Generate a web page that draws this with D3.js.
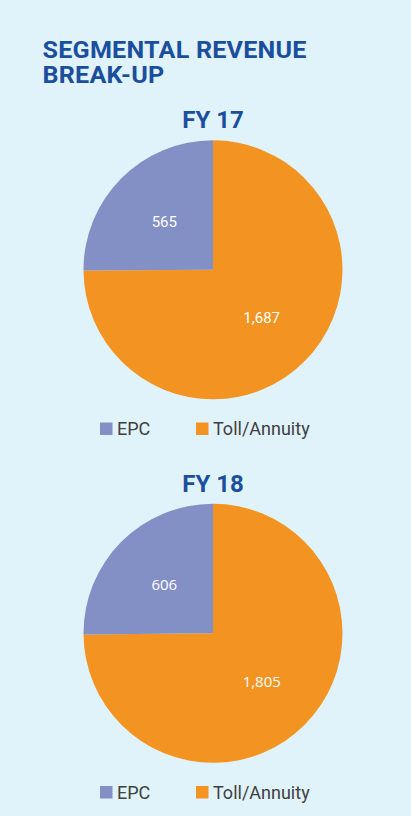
<!DOCTYPE html>
<html>
<head>
<meta charset="utf-8">
<script src="https://cdn.jsdelivr.net/npm/d3@7"></script>
<style>
  html, body { margin: 0; padding: 0; background: #e0f3fb; }
  svg { display: block; }
</style>
</head>
<body>
<div id="chart"></div>
<script>
/* Segmental revenue break-up, two pies */

const years = ["FY 17", "FY 18"];
const categories = ["EPC", "Toll/Annuity"];
const epcValues = [565, 606];
const tollValues = [1687, 1805];
const colors = ["#8290c6", "#f39422"];

const width = 411,
      height = 816,
      radius = 129.5,
      cx = 213;

let svg = d3.select("#chart")
    .append("svg")
    .attr("width", width)
    .attr("height", height)
    .attr("viewBox", [0, 0, width, height]);

svg.append("rect")
    .attr("width", width)
    .attr("height", height)
    .attr("fill", "#e0f3fb");

// main title, two lines, the source face is a bit wider than Roboto
svg.append("g")
    .attr("transform", "translate(42.5,0) scale(1.07,1)")
    .selectAll(".title")
    .data(["SEGMENTAL REVENUE", "BREAK-UP"])
    .join("text")
    .attr("class", "title")
    .attr("x", 0)
    .attr("y", (d, i) => 58.5 + i * 24.5)
    .attr("fill", "#1b4f9d")
    .style("font", "bold 23.5px Roboto")
    .style("letter-spacing", "0.2px")
    .text(d => d);

// pies start at 12 o'clock with Toll/Annuity, EPC closes the circle
let pie = d3.pie()
    .sort(null)
    .value(d => d.value);

let arc = d3.arc()
    .innerRadius(0)
    .outerRadius(radius);

let labelArc = d3.arc()
    .innerRadius(radius * 0.53)
    .outerRadius(radius * 0.53);

years.forEach((year, i) => {
    const top = 128.3 + i * 363.5;
    const rows = [
        {name: categories[0], value: epcValues[i], c: 0},
        {name: categories[1], value: tollValues[i], c: 1}
    ];

    let g = svg.append("g");

    g.append("text")
        .attr("x", cx)
        .attr("y", top)
        .attr("text-anchor", "middle")
        .attr("fill", "#1b4f9d")
        .style("font", "bold 24px Roboto")
        .text(year);

    let pg = g.append("g")
        .attr("transform", `translate(${cx},${top + 141.5})`);

    let slices = pie(rows.slice().reverse());

    pg.selectAll("path")
        .data(slices)
        .join("path")
        .attr("d", arc)
        .attr("fill", d => colors[d.data.c]);

    pg.selectAll("text")
        .data(slices)
        .join("text")
        .attr("transform", d => `translate(${labelArc.centroid(d)})`)
        .attr("text-anchor", "middle")
        .attr("dy", "0.35em")
        .attr("fill", "#ffffff")
        .style("font", i ? "15px 'Open Sans'" : "15px Roboto")
        .text(d => d3.format(",")(d.data.value));

    // legend
    let lg = g.append("g")
        .attr("transform", `translate(0,${top + 306.7})`);

    let item = lg.selectAll("g")
        .data(categories)
        .join("g")
        .attr("transform", (d, j) => `translate(${j ? 196 : 100},0)`);

    item.append("rect")
        .attr("x", 0)
        .attr("y", -12.5)
        .attr("width", 12.5)
        .attr("height", 12.5)
        .attr("fill", (d, j) => colors[j]);

    item.append("text")
        .attr("x", 17)
        .attr("y", 0)
        .attr("fill", "#404040")
        .style("font", "18px Roboto")
        .text(d => d);
});
</script>
</body>
</html>
